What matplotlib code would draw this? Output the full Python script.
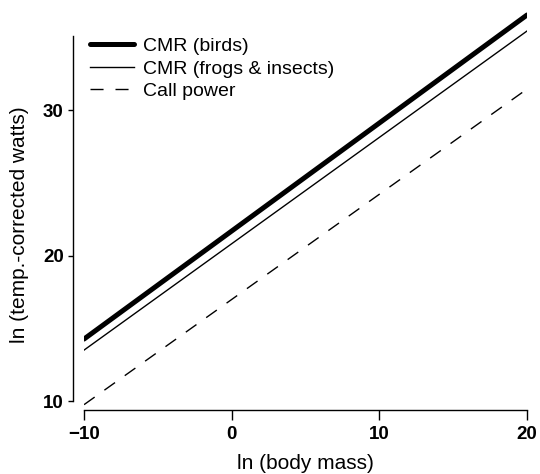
import matplotlib
matplotlib.use('Agg')
import matplotlib.pyplot as plt

plt.rcParams['font.family'] = ['Liberation Sans', 'DejaVu Sans']

# data: line end points at ln(body mass) = -10 and 20
body_mass = [-10, 20]
cmr_birds = [14.26, 36.53]
cmr_frogs = [13.5, 35.43]
call_power = [9.75, 31.44]

x_ticks = [-10, 0, 10, 20]
y_ticks = [10, 20, 30]

fig = plt.figure(figsize=[5.4, 4.74], dpi=100)
ax = fig.add_axes([0.1556, 0.1386, 0.8204, 0.8442])

ax.plot(body_mass, cmr_birds, color='black', linewidth=3.6,
        solid_capstyle='round', label='CMR (birds)')
ax.plot(body_mass, cmr_frogs, color='black', linewidth=1.0,
        label='CMR (frogs & insects)')
ax.plot(body_mass, call_power, color='black', linewidth=1.0,
        linestyle=(0, (9.4, 8.6)), label='Call power')

ax.set_xlim(-10, 20)
ax.set_ylim(9.5, 37)

#detached R-style axes
ax.spines['top'].set_visible(False)
ax.spines['right'].set_visible(False)
ax.spines['left'].set_position(('outward', 8))
ax.spines['bottom'].set_position(('outward', 1.2))
ax.spines['left'].set_bounds(10, 35.1)
ax.spines['bottom'].set_bounds(-10, 20)
for s in ['left', 'bottom']:
    ax.spines[s].set_linewidth(1.0)

ax.set_xticks(x_ticks)
ax.set_yticks(y_ticks)
ax.tick_params(axis='x', direction='out', length=7, width=1.0, pad=4.5, labelsize=13.5)
ax.tick_params(axis='y', direction='out', length=3.6, width=1.0, pad=3, labelsize=13.5)
for lab in ax.get_xticklabels() + ax.get_yticklabels():
    lab.set_fontweight('bold')

ax.set_xlabel('ln (body mass)', fontsize=15)
ax.set_ylabel('ln (temp.-corrected watts)', fontsize=15)
ax.xaxis.set_label_coords(0.5, -0.115)
ax.yaxis.set_label_coords(-0.124, 0.46)

ax.legend(loc='upper left', bbox_to_anchor=(0.152, 0.937),
          bbox_transform=fig.transFigure, frameon=False, borderaxespad=0,
          fontsize=14, handlelength=2.26, handletextpad=0.46,
          labelspacing=0.25)

plt.savefig('out.png', dpi=100)
